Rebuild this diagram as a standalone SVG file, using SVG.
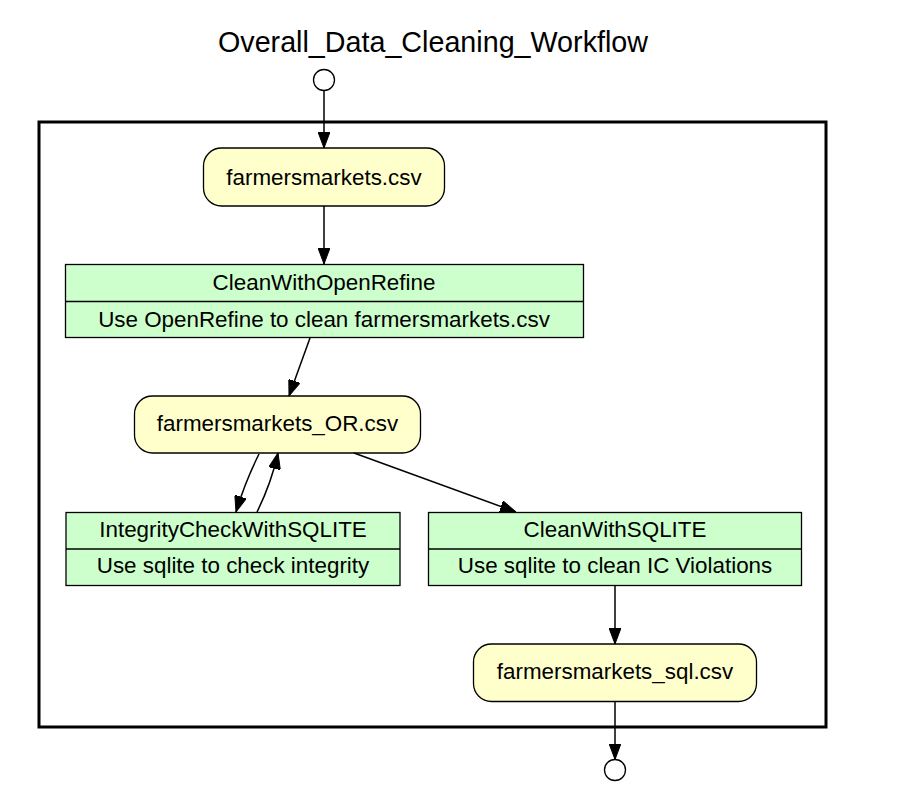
<svg xmlns="http://www.w3.org/2000/svg" width="900" height="793" viewBox="0 0 900 793">
<style>
text{font-family:"Liberation Sans",Arial,sans-serif;fill:#000;text-anchor:middle}
.t{font-size:28.7px}
.n{font-size:22.4px}
.data{fill:#ffffcc;stroke:#000;stroke-width:1.3}
.step{fill:#ccffcc;stroke:#000;stroke-width:1.3}
.e{fill:none;stroke:#000;stroke-width:1.5}
.port{fill:#fff;stroke:#000;stroke-width:1.3}
</style>
<defs>
<marker id="ah" viewBox="0 0 16 12" markerWidth="16" markerHeight="12" refX="16" refY="6" orient="auto" markerUnits="userSpaceOnUse">
<path d="M0,0 L16,6 L0,12 z" fill="#000" stroke="#000" stroke-width="1"/>
</marker>
</defs>
<rect width="900" height="793" fill="#fff"/>
<text class="t" x="433" y="52">Overall_Data_Cleaning_Workflow</text>
<rect x="39" y="122" width="787" height="605" fill="none" stroke="#000" stroke-width="3"/>
<g id="start"><circle class="port" cx="324" cy="80" r="10.5"/></g>
<g id="end"><circle class="port" cx="615" cy="770" r="10.5"/></g>
<g id="farmersmarkets_csv">
<rect class="data" x="203.5" y="148" width="241" height="58" rx="18"/>
<text class="n" x="324" y="185">farmersmarkets.csv</text>
</g>
<g id="CleanWithOpenRefine">
<rect class="step" x="65.5" y="264.5" width="518" height="73"/>
<line x1="65.5" y1="301.5" x2="583.5" y2="301.5" stroke="#000" stroke-width="1.3"/>
<text class="n" x="324" y="290">CleanWithOpenRefine</text>
<text class="n" x="324" y="327">Use OpenRefine to clean farmersmarkets.csv</text>
</g>
<g id="farmersmarkets_OR_csv">
<rect class="data" x="134.5" y="396" width="286" height="57" rx="18"/>
<text class="n" x="277.5" y="431">farmersmarkets_OR.csv</text>
</g>
<g id="IntegrityCheckWithSQLITE">
<rect class="step" x="66" y="512.5" width="334" height="73"/>
<line x1="66" y1="549" x2="400" y2="549" stroke="#000" stroke-width="1.3"/>
<text class="n" x="233" y="537">IntegrityCheckWithSQLITE</text>
<text class="n" x="233" y="573">Use sqlite to check integrity</text>
</g>
<g id="CleanWithSQLITE">
<rect class="step" x="428.5" y="512.5" width="373" height="73"/>
<line x1="428.5" y1="549" x2="801.5" y2="549" stroke="#000" stroke-width="1.3"/>
<text class="n" x="615" y="537">CleanWithSQLITE</text>
<text class="n" x="615" y="573">Use sqlite to clean IC Violations</text>
</g>
<g id="farmersmarkets_sql_csv">
<rect class="data" x="473.5" y="644" width="283" height="57.5" rx="18"/>
<text class="n" x="615" y="679">farmersmarkets_sql.csv</text>
</g>
<g id="edges">
<path class="e" d="M324,91 L324,148" marker-end="url(#ah)"/>
<path class="e" d="M324,206 L324,264" marker-end="url(#ah)"/>
<path class="e" d="M310,338 L289,396" marker-end="url(#ah)"/>
<path class="e" d="M259,454 Q245,482 236,512" marker-end="url(#ah)"/>
<path class="e" d="M257,512 Q271,484 278,453" marker-end="url(#ah)"/>
<path class="e" d="M354,453 L516,512" marker-end="url(#ah)"/>
<path class="e" d="M615,586 L615,644" marker-end="url(#ah)"/>
<path class="e" d="M615,702 L615,759.5" marker-end="url(#ah)"/>
</g>
</svg>
